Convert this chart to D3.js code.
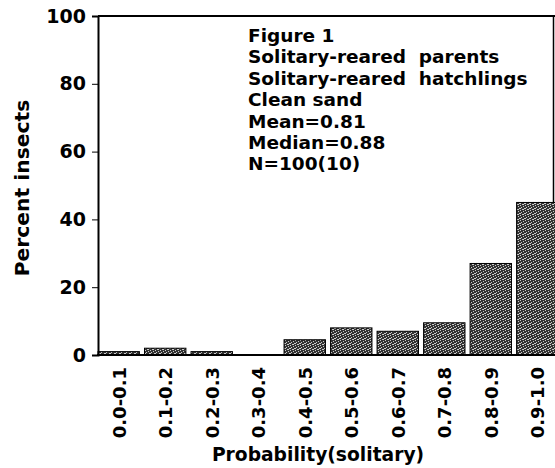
<!DOCTYPE html>
<html>
<head>
<meta charset="utf-8">
<script src="https://cdn.jsdelivr.net/npm/d3@7"></script>
<style>
body { margin: 0; background: #fff; }
text { font-family: "DejaVu Sans", sans-serif; font-weight: bold; fill: #000; }
</style>
</head>
<body>
<script>
//chart data
var bins = ["0.0-0.1", "0.1-0.2", "0.2-0.3", "0.3-0.4", "0.4-0.5",
            "0.5-0.6", "0.6-0.7", "0.7-0.8", "0.8-0.9", "0.9-1.0"];
var percents = [1, 2, 1, 0, 4.5, 8, 7, 9.5, 27, 45];
var yTicks = [0, 20, 40, 60, 80, 100];
var notes = ["Figure 1", "Solitary-reared  parents", "Solitary-reared  hatchlings",
             "Clean sand", "Mean=0.81", "Median=0.88", "N=100(10)"];

var w = 555, h = 468;

var svg = d3.select("body")
    .append("svg")
    .attr("width", w)
    .attr("height", h);

//stipple pattern for the bars
var dots = [[0,0],[3,1],[1,2],[4,3],[2,4],[0,3],[3,4]];
var pat = svg.append("defs").append("pattern")
    .attr("id", "stip")
    .attr("width", 5)
    .attr("height", 5)
    .attr("patternUnits", "userSpaceOnUse");
pat.append("rect").attr("width", 5).attr("height", 5).attr("fill", "#333");
pat.selectAll("rect.dot")
    .data(dots)
    .enter()
    .append("rect")
    .attr("class", "dot")
    .attr("x", function(d){ return d[0]; })
    .attr("y", function(d){ return d[1]; })
    .attr("width", 1).attr("height", 1)
    .attr("fill", "#ccc");

var x = d3.scaleBand()
    .domain(bins)
    .range([98, 558])
    .paddingInner(0.11)
    .paddingOuter(0);

var y = d3.scaleLinear()
    .domain([0, 100])
    .range([355, 16]);

//frame: top and right edges
svg.append("line")
    .attr("x1", 98).attr("x2", w)
    .attr("y1", y(100)).attr("y2", y(100))
    .attr("stroke", "#000").attr("stroke-width", 2);
svg.append("line")
    .attr("x1", 553.5).attr("x2", 553.5)
    .attr("y1", y(100)).attr("y2", y(0))
    .attr("stroke", "#000").attr("stroke-width", 1.5);

//bars
svg.selectAll(".bar")
    .data(percents)
    .enter()
    .append("rect")
    .attr("class", "bar")
    .attr("x", function(d, i){ return x(bins[i]); })
    .attr("width", x.bandwidth())
    .attr("y", function(d){ return y(d); })
    .attr("height", function(d){ return y(0) - y(d); })
    .attr("fill", "url(#stip)")
    .attr("stroke", "#000")
    .attr("stroke-width", 1);

//y axis
var yAxis = svg.append("g")
    .attr("class", "axis")
    .attr("transform", "translate(98,0)")
    .call(d3.axisLeft(y).tickValues(yTicks).tickSize(6).tickPadding(6));
yAxis.select(".domain").attr("stroke-width", 2);
yAxis.selectAll("text")
    .style("font-size", "19px")
    .style("font-family", "'DejaVu Sans', sans-serif")
    .style("font-weight", "bold");

//x axis baseline
svg.append("line")
    .attr("x1", 97).attr("x2", w)
    .attr("y1", y(0)).attr("y2", y(0))
    .attr("stroke", "#000").attr("stroke-width", 2);

//x tick labels rotated
svg.selectAll(".xlab")
    .data(bins)
    .enter()
    .append("text")
    .attr("class", "xlab")
    .attr("text-anchor", "end")
    .attr("transform", function(d){
        return "translate(" + (x(d) + x.bandwidth() / 2 + 7) + ",367) rotate(-90)";
    })
    .style("font-size", "18px")
    .text(function(d){ return d; });

//axis titles
svg.append("text")
    .attr("text-anchor", "middle")
    .attr("x", 318)
    .attr("y", 461)
    .style("font-size", "18.7px")
    .text("Probability(solitary)");

svg.append("text")
    .attr("text-anchor", "middle")
    .attr("transform", "translate(29,188) rotate(-90)")
    .style("font-size", "20.3px")
    .text("Percent insects");

//annotation block
svg.selectAll(".note")
    .data(notes)
    .enter()
    .append("text")
    .attr("class", "note")
    .attr("x", 248)
    .attr("y", function(d, i){ return 42 + i * 21.4; })
    .style("font-size", "18.5px")
    .style("white-space", "pre")
    .text(function(d){ return d; });
</script>
</body>
</html>
